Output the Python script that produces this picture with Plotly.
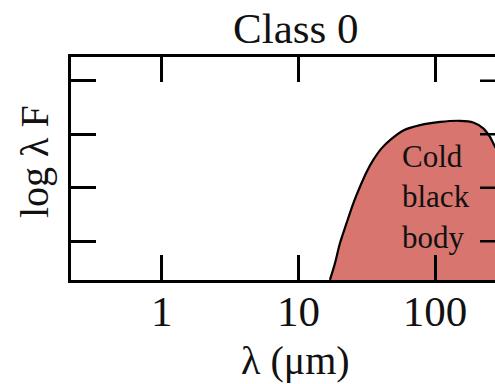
import plotly.graph_objects as go

# Spectral energy distribution of a Class 0 protostar (schematic)
wavelength_um = [17.0, 18.5, 20.1, 22.5, 25.2, 28.2, 31.6, 35.3, 40.7, 46.8, 58.5,
                 77.6, 108.7, 152, 190, 225, 252, 274, 363, 430, 508, 553]
log_lambda_f = [0.28, 0.59, 0.96, 1.34, 1.71, 2.02, 2.30, 2.52, 2.74, 2.89, 3.07,
                3.17, 3.23, 3.25, 3.22, 3.11, 2.95, 2.77, 2.24, 1.49, 0.65, 0.28]

x_tick_vals = [1, 10, 100]
x_tick_text = ["1", "10", "100"]
y_tick_vals = [1, 2, 3, 4]

FONT = "Liberation Serif"
INK = "#111111"
FILL = "#D8756E"

W, H = 495, 384
L, R, T, B = 71, 0, 57, 104
plot_w = W - L - R
plot_h = H - T - B


def px_to_paper_x(px):
    return (px - L) / plot_w


def px_to_paper_y(py):
    return (H - B - py) / plot_h


fig = go.Figure()
fig.add_trace(go.Scatter(
    x=wavelength_um,
    y=log_lambda_f,
    mode="lines",
    line=dict(color="black", width=2.2, shape="spline", smoothing=0.8),
    fill="tozeroy",
    fillcolor=FILL,
    hoverinfo="skip",
    showlegend=False,
))

# ticks on the right-hand frame edge
for v in y_tick_vals:
    fig.add_shape(type="line", xref="paper", yref="y",
                  x0=px_to_paper_x(480), x1=1.05, y0=v, y1=v,
                  line=dict(color="black", width=2.5), layer="above")

fig.update_xaxes(
    type="log",
    range=[-0.6635, 2.438],
    tickvals=x_tick_vals,
    ticktext=x_tick_text,
    ticks="inside",
    ticklen=25,
    tickwidth=2.5,
    tickcolor="black",
    showline=True,
    linecolor="black",
    linewidth=2.5,
    mirror="ticks",
    showgrid=False,
    zeroline=False,
    tickfont=dict(family=FONT, size=43, color=INK),
    ticklabelstandoff=-8,
)
fig.update_yaxes(
    range=[0.279, 4.441],
    tickvals=y_tick_vals,
    showticklabels=False,
    ticks="inside",
    ticklen=25,
    tickwidth=2.5,
    tickcolor="black",
    showline=True,
    linecolor="black",
    linewidth=2.5,
    mirror=False,
    showgrid=False,
    zeroline=False,
)

annotations = [
    dict(text="Class 0", xref="paper", yref="paper",
         x=px_to_paper_x(295), y=px_to_paper_y(28),
         xanchor="center", yanchor="middle", showarrow=False,
         font=dict(family=FONT, size=43, color=INK)),
    dict(text="λ (μm)", xref="paper", yref="paper",
         x=px_to_paper_x(295), y=px_to_paper_y(360),
         xanchor="center", yanchor="middle", showarrow=False,
         font=dict(family=FONT, size=40, color=INK)),
    dict(text="log λ F", xref="paper", yref="paper",
         x=px_to_paper_x(34), y=px_to_paper_y(162), textangle=-90,
         xanchor="center", yanchor="middle", showarrow=False,
         font=dict(family=FONT, size=40, color=INK)),
    dict(text="Cold<br>black<br>body", xref="x", yref="paper",
         x=1.743, y=px_to_paper_y(197), align="left",
         xanchor="left", yanchor="middle", showarrow=False,
         font=dict(family=FONT, size=31, color=INK)),
]

fig.update_layout(
    width=W, height=H,
    margin=dict(l=L, r=R, t=T, b=B, pad=0),
    paper_bgcolor="white",
    plot_bgcolor="white",
    annotations=annotations,
)

fig.write_html("out.html")
